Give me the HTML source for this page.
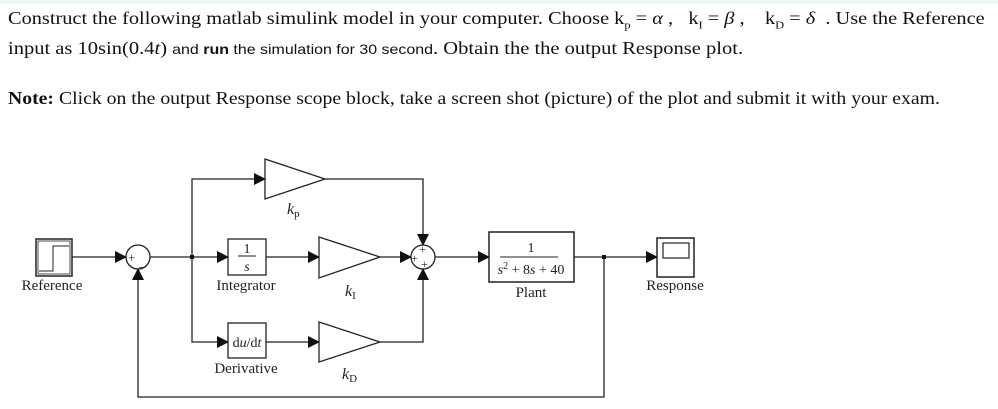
<!DOCTYPE html>
<html><head><meta charset="utf-8"><style>
body{margin:0;background:#fff;width:998px;height:409px;overflow:hidden;position:relative;font-family:"Liberation Serif",serif;color:#111}
.t{position:absolute;white-space:nowrap;font-size:18px;transform-origin:0 0}
.s{font-family:"Liberation Sans",sans-serif;font-size:14px}
svg{position:absolute;left:0;top:0}
</style></head><body>
<div style="position:absolute;left:0;top:0;width:998px;height:4px;background:#eaf6f8"></div>
<div class="t" style="left:8px;top:8px;transform:scaleX(1.13)">Construct the following matlab simulink model in your computer. Choose k<sub style="font-size:11px">p</sub> = <i>α</i> , &nbsp; k<sub style="font-size:11px">I</sub> = <i>β</i> , &nbsp;&nbsp; k<sub style="font-size:11px">D</sub> = <i>δ</i> &nbsp;. Use the Reference</div>
<div class="t" style="left:8px;top:38px;transform:scaleX(1.14)">input as 10sin(0.4<i>t</i>) <span class="s">and <b>run</b> the simulation for 30 second</span>. Obtain the the output Response plot.</div>
<div class="t" style="left:8px;top:88px;transform:scaleX(1.096)"><b>Note:</b> Click on the output Response scope block, take a screen shot (picture) of the plot and submit it with your exam.</div>
<svg width="998" height="409" viewBox="0 0 998 409">
<defs><marker id="a" markerWidth="12" markerHeight="12" refX="11" refY="6" orient="auto" markerUnits="userSpaceOnUse"><path d="M0,0 L12,6 L0,12Z" fill="#111"/></marker></defs>
<g stroke="#222" stroke-width="1.3" fill="none">
<rect x="36" y="239" width="36" height="37" stroke-width="1.5"/>
<rect x="38" y="241" width="32" height="33" stroke-width="0.8"/>
<path d="M39,271 H53 V246 H69" stroke-width="1"/>
<line x1="72" y1="257" x2="126" y2="257" marker-end="url(#a)"/>
<circle cx="138" cy="257" r="12"/>
<line x1="150" y1="257" x2="228" y2="257" marker-end="url(#a)"/>
<path d="M192,257 V179 H265" marker-end="url(#a)"/>
<path d="M192,257 V342 H228" marker-end="url(#a)"/>
<polygon points="265,159 325,179 265,199"/>
<rect x="228" y="239" width="38" height="36"/>
<line x1="266" y1="257" x2="319" y2="257" marker-end="url(#a)"/>
<polygon points="319,237 380,257 319,278"/>
<rect x="228" y="323" width="38" height="35"/>
<line x1="266" y1="342" x2="319" y2="342" marker-end="url(#a)"/>
<polygon points="319,322 380,342 319,362"/>
<path d="M325,179 H423 V245" marker-end="url(#a)"/>
<line x1="380" y1="257" x2="411" y2="257" marker-end="url(#a)"/>
<path d="M380,342 H423 V269" marker-end="url(#a)"/>
<circle cx="423" cy="257" r="12"/>
<line x1="435" y1="257" x2="489" y2="257" marker-end="url(#a)"/>
<rect x="489" y="232" width="85" height="50" stroke-width="1.5"/>
<line x1="500" y1="257" x2="558" y2="257" stroke-width="1"/>
<line x1="574" y1="257" x2="657" y2="257" marker-end="url(#a)"/>
<rect x="657" y="238" width="37" height="39" stroke-width="1.5"/>
<rect x="663" y="243" width="26" height="15" stroke-width="1.2"/>
<path d="M604,257 V397 H138 V269" marker-end="url(#a)"/>
</g>
<rect x="190" y="255" width="4" height="4" fill="#111"/>
<rect x="602" y="255" width="4" height="4" fill="#111"/>
<g font-family="Liberation Serif,serif" fill="#222" font-size="15">
<text x="128" y="262" font-size="13">+</text><text x="139" y="266" font-size="13">_</text>
<text x="419" y="253" font-size="12">+</text><text x="411" y="262" font-size="12">+</text><text x="421" y="268" font-size="12">+</text>
<text x="247" y="253" text-anchor="middle" font-size="14">1</text>
<line x1="238" y1="256" x2="256" y2="256" stroke="#222" stroke-width="1"/>
<text x="247" y="271" text-anchor="middle" font-size="14" font-style="italic">s</text>
<text x="247" y="347" text-anchor="middle" font-size="14">d<tspan font-style="italic">u</tspan>/d<tspan font-style="italic">t</tspan></text>
<text x="531" y="252" text-anchor="middle" font-size="14">1</text>
<text x="531" y="274" text-anchor="middle" font-size="14"><tspan font-style="italic">s</tspan><tspan font-size="10" dy="-5">2</tspan><tspan dy="5"> + 8</tspan><tspan font-style="italic">s</tspan> + 40</text>
<text x="52" y="290" text-anchor="middle">Reference</text>
<text x="246" y="290" text-anchor="middle">Integrator</text>
<text x="246" y="373" text-anchor="middle">Derivative</text>
<text x="531" y="297" text-anchor="middle">Plant</text>
<text x="675" y="290" text-anchor="middle">Response</text>
<text x="287" y="214" font-style="italic" font-size="16">k<tspan font-size="11" font-style="normal" dy="3">p</tspan></text>
<text x="345" y="296" font-style="italic" font-size="16">k<tspan font-size="11" font-style="normal" dy="3">I</tspan></text>
<text x="342" y="379" font-style="italic" font-size="16">k<tspan font-size="11" font-style="normal" dy="3">D</tspan></text>
</g>
</svg>
</body></html>
